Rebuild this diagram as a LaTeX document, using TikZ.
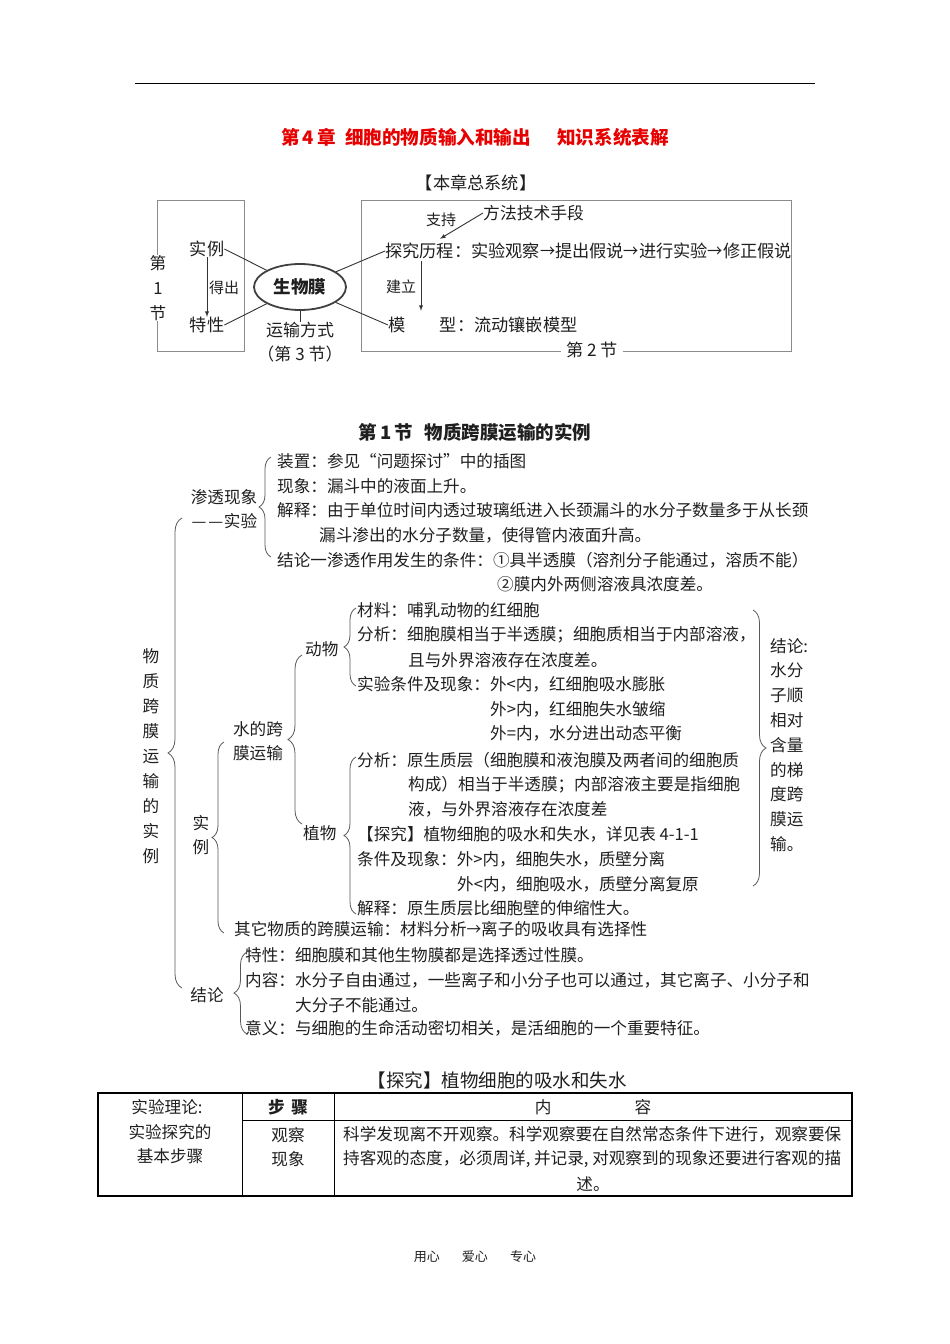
\documentclass[tikz,border=0pt]{standalone}
\usepackage{graphicx}
\usepackage{fontspec}
\setmainfont{Noto Sans CJK SC}
\usetikzlibrary{shapes.geometric, arrows, decorations.pathreplacing}
\definecolor{titred}{RGB}{230,0,0}
\newcommand{\sra}{\scalebox{0.88}[1]{→}}
\newcommand{\dsh}{\makebox[1em][c]{—}}

\begin{document}
\begin{tikzpicture}[x=1pt, y=-1pt, inner sep=0pt, text=black!88,
    txt/.style={anchor=west, font=\fontsize{16.6}{18}\selectfont},
    lbl/.style={font=\fontsize{17.2}{18}\selectfont},
    sm/.style={font=\fontsize{15}{16}\selectfont},
    vt/.style={align=center, font=\fontsize{16.6}{#1}\selectfont},
    vt/.default=24.6,
    box/.style={draw=black!45, line width=1pt},
    lnk/.style={draw=black!80, line width=0.9pt},
    brc/.style={draw=black!65, line width=0.8pt, decorate, decoration={brace, amplitude=#1}},
    brc/.default=12pt]
    \useasboundingbox (0,0) rectangle (950,1344);
    \draw[line width=0.8pt] (135,83) -- (815,83);
    \node[font=\fontsize{18.6}{20}\selectfont\bfseries, text=titred] (bt) at (475,137) {第\,4\,章\hspace{0.5em}细胞的物质输入和输出\hspace{1.4em}知识系统表解};
    \node[lbl] (zxt) at (476,183) {【本章总系统】};
    % top map
    \draw[box] (157,200) rectangle (244,351);
    \draw[box] (361,200) rectangle (791,351);
    \node[vt=25, fill=white, inner xsep=2pt] (d1j) at (158,288) {第\\1\\节};
    \node[lbl] (sl) at (207,249) {实例};
    \node[lbl] (tx) at (207,325) {特性};
    \node[sm] (dc) at (224,288) {得出};
    \node[ellipse, draw=black!75, line width=1.8pt, fill=white, minimum width=92, minimum height=46, font=\fontsize{17.5}{18}\selectfont\bfseries] (swm) at (300,287) {生物膜};
    \node[vt=24, font=\fontsize{17}{24}\selectfont] (ysfs) at (300,342) {运输方式\\（第 3 节）};
    \node[lbl, anchor=west] (tjl) at (385,251) {探究历程：实验观察\sra 提出假说\sra 进行实验\sra 修正假说};
    \node[lbl, anchor=west, font=\fontsize{16.8}{18}\selectfont] (ff) at (483,213) {方法技术手段};
    \node[sm] (zc) at (441,220) {支持};
    \node[sm] (jl) at (401,287) {建立};
    \node[lbl, anchor=west] (mx) at (388,325) {模\hspace{2em}型：流动镶嵌模型};
    \node[lbl, fill=white, inner xsep=5pt] (d2j) at (592,350) {第 2 节};
    \draw[lnk, -latex] (sl) -- (tx);
    \draw[lnk] (sl.east) -- (swm);
    \draw[lnk] (tx.east) -- (swm);
    \draw[lnk] (swm) -- (tjl.west);
    \draw[lnk] (swm) -- (mx.west);
    \draw[lnk] (swm.south) -- (ysfs.north);
    \draw[lnk, -latex] (ff.west) -- ([xshift=55pt, yshift=4pt]tjl.north west);
    \draw[lnk, -latex] ([xshift=36pt, yshift=-2pt]tjl.south west) -- ([xshift=36pt, yshift=6pt]tjl.south west |- mx.north);
    % section 1
    \node[font=\fontsize{18.5}{20}\selectfont\bfseries] (s1) at (475,432) {第\,1\,节\hspace{0.6em}物质跨膜运输的实例};
    \node[txt] (zz) at (277,461) {装置：参见“问题探讨”中的插图};
    \node[txt] (xx) at (277,486) {现象：漏斗中的液面上升。};
    \node[txt] (js1) at (277,510) {解释：由于单位时间内透过玻璃纸进入长颈漏斗的水分子数量多于从长颈};
    \node[txt] (js2) at (319,535) {漏斗渗出的水分子数量，使得管内液面升高。};
    \node[txt] (jl1) at (277,560) {结论一渗透作用发生的条件：①具半透膜（溶剂分子能通过，溶质不能）};
    \node[txt] (jl2) at (497,584) {②膜内外两侧溶液具浓度差。};
    \node[vt=24] (sst) at (224,509) {渗透现象\\\dsh\dsh 实验};
    \node[vt=25] (wz) at (151,756) {物\\质\\跨\\膜\\运\\输\\的\\实\\例};
    \node[vt=24] (sl2) at (201,835) {实\\例};
    \node[vt=24] (sdk) at (258,741) {水的跨\\膜运输};
    \node[txt] (dw) at (305,649) {动物};
    \node[txt] (cl) at (357,610) {材料：哺乳动物的红细胞};
    \node[txt] (fx1) at (357,635) {分析：细胞膜相当于半透膜；细胞质相当于内部溶液，};
    \node[txt] (fx2) at (408,660) {且与外界溶液存在浓度差。};
    \node[txt] (sy1) at (357,684) {实验条件及现象：外<内，红细胞吸水膨胀};
    \node[txt] (sy2) at (490,709) {外>内，红细胞失水皱缩};
    \node[txt] (sy3) at (490,733) {外=内，水分进出动态平衡};
    \node[txt] (zw) at (303,833) {植物};
    \node[txt] (zfx1) at (357,760) {分析：原生质层（细胞膜和液泡膜及两者间的细胞质};
    \node[txt] (zfx2) at (408,785) {构成）相当于半透膜；内部溶液主要是指细胞};
    \node[txt] (zfx3) at (408,809) {液，与外界溶液存在浓度差};
    \node[txt] (tj) at (357,834) {【探究】植物细胞的吸水和失水，详见表 4-1-1};
    \node[txt] (tjx1) at (357,859) {条件及现象：外>内，细胞失水，质壁分离};
    \node[txt] (tjx2) at (457,884) {外<内，细胞吸水，质壁分离复原};
    \node[txt] (zjs) at (357,908) {解释：原生质层比细胞壁的伸缩性大。};
    \node[vt=24.8, align=left, anchor=north west] (jlc) at (770,638) {结论:\\水分\\子顺\\相对\\含量\\的梯\\度跨\\膜运\\输。};
    \node[txt] (qt) at (234,929) {其它物质的跨膜运输：材料分析\sra 离子的吸收具有选择性};
    \node[vt] (jlr) at (207,995) {结论};
    \node[txt] (tx2) at (245,955) {特性：细胞膜和其他生物膜都是选择透过性膜。};
    \node[txt] (nr1) at (245,980) {内容：水分子自由通过，一些离子和小分子也可以通过，其它离子、小分子和};
    \node[txt] (nr2) at (295,1005) {大分子不能通过。};
    \node[txt] (yy) at (245,1028) {意义：与细胞的生命活动密切相关，是活细胞的一个重要特征。};
    % braces
    \draw[brc=14pt] (182,988) -- (182,518);
    \draw[brc] (271,557) -- (271,457);
    \draw[brc] (224,933) -- (224,742);
    \draw[brc=14pt] (302,824) -- (302,655);
    \draw[brc] (356,686) -- (356,608);
    \draw[brc] (356,914) -- (356,757);
    \draw[brc=13pt] (247,1034) -- (247,952);
    \draw[brc=13pt] (753,610) -- (753,886);
    % table
    \node[font=\fontsize{18.5}{20}\selectfont] (bt2) at (497,1080) {【探究】植物细胞的吸水和失水};
    \draw[line width=1.8pt] (98,1093) rectangle (852,1196);
    \draw[line width=1pt] (242,1093) -- (242,1196);
    \draw[line width=1pt] (334,1093) -- (334,1196);
    \draw[line width=1pt] (242,1120) -- (852,1120);
    \node[vt] (c11) at (167,1107) {实验理论:};
    \node[vt] (c12) at (170,1144) {实验探究的\\基本步骤};
    \node[vt, font=\fontsize{16.6}{18}\selectfont\bfseries] (h2) at (288,1107) {步\hspace{0.4em}骤};
    \node[vt] (h3) at (593,1107) {内\hspace{5em}容};
    \node[vt] (gc) at (288,1147) {观察\\现象};
    \node[txt] (nrA) at (343,1134) {科学发现离不开观察。科学观察要在自然常态条件下进行，观察要保};
    \node[txt] (nrB) at (343,1159) {持客观的态度，必须周详, 并记录, 对观察到的现象还要进行客观的描};
    \node[vt] (nrC) at (593,1184) {述。};
    \node[font=\fontsize{13}{14}\selectfont] (yx) at (475,1257) {用心\hspace{1.7em}爱心\hspace{1.7em}专心};
\end{tikzpicture}
\end{document}
